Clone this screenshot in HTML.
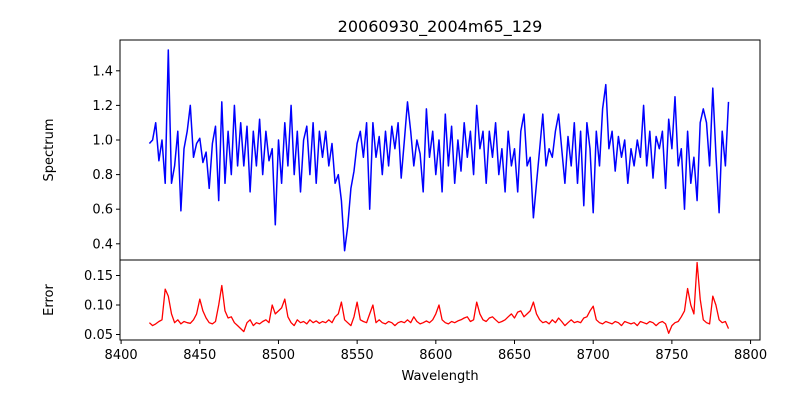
<!DOCTYPE html>
<html><head><meta charset="utf-8"><style>
html,body{margin:0;padding:0;background:#fff;}
svg{display:block;font-family:"DejaVu Sans","Liberation Sans",sans-serif;}
</style></head><body>
<svg id="chart" width="800" height="400" xmlns="http://www.w3.org/2000/svg">
<rect width="800" height="400" fill="#fff"/>
<text x="440" y="32" font-size="16" text-anchor="middle">20060930_2004m65_129</text>
<g id="topPanel"></g>
<g id="botPanel"></g>
<text x="440" y="380" font-size="13" text-anchor="middle">Wavelength</text>
<text transform="translate(53,150) rotate(-90)" font-size="13" text-anchor="middle">Spectrum</text>
<text transform="translate(53,300) rotate(-90)" font-size="13" text-anchor="middle">Error</text>
</svg>
<script>
const wlStart = 8418, wlStep = 2;
const spectrum = [0.98,1.0,1.1,0.88,1.0,0.75,1.52,0.75,0.85,1.05,0.59,0.95,1.05,1.2,0.9,0.98,1.01,0.87,0.93,0.72,0.98,1.08,0.65,1.22,0.75,1.05,0.8,1.2,0.85,1.1,0.85,1.08,0.7,1.05,0.85,1.12,0.8,1.05,0.88,0.95,0.51,1.0,0.75,1.1,0.85,1.2,0.8,1.05,0.7,1.0,1.08,0.8,1.1,0.75,1.05,0.9,1.05,0.85,0.98,0.75,0.8,0.65,0.36,0.5,0.72,0.82,0.98,1.05,0.9,1.1,0.6,1.1,0.9,1.02,0.8,1.05,0.85,1.08,0.95,1.1,0.78,1.0,1.22,1.05,0.85,1.0,0.92,0.7,1.18,0.9,1.05,0.8,1.0,0.7,1.15,0.85,1.08,0.75,1.0,0.82,1.1,0.9,1.05,0.8,1.2,0.95,1.05,0.75,1.05,0.9,1.1,0.8,0.95,0.7,1.05,0.85,0.95,0.7,1.05,1.15,0.85,0.9,0.55,0.75,0.95,1.15,0.85,0.95,0.9,1.05,1.15,0.95,0.75,1.02,0.85,1.1,0.75,1.05,0.62,1.1,0.95,0.58,1.05,0.85,1.18,1.32,0.95,1.05,0.82,1.02,0.9,1.0,0.75,0.95,0.85,1.0,0.9,1.2,0.85,1.05,0.78,1.02,0.95,1.05,0.72,1.12,0.95,1.25,0.85,0.95,0.6,1.05,0.75,0.9,0.65,1.1,1.18,1.1,0.85,1.3,0.92,0.58,1.05,0.85,1.22];
const errors = [0.07,0.065,0.068,0.072,0.075,0.127,0.115,0.085,0.07,0.075,0.068,0.072,0.07,0.069,0.075,0.085,0.11,0.09,0.078,0.07,0.068,0.072,0.1,0.133,0.09,0.078,0.08,0.07,0.065,0.06,0.055,0.07,0.075,0.065,0.07,0.068,0.072,0.075,0.07,0.1,0.085,0.09,0.095,0.11,0.08,0.07,0.065,0.075,0.07,0.072,0.068,0.075,0.07,0.073,0.069,0.072,0.07,0.075,0.07,0.08,0.085,0.105,0.075,0.07,0.065,0.08,0.105,0.075,0.072,0.07,0.085,0.1,0.07,0.075,0.07,0.068,0.072,0.07,0.065,0.07,0.072,0.07,0.075,0.07,0.08,0.072,0.068,0.07,0.073,0.07,0.075,0.085,0.1,0.075,0.07,0.068,0.072,0.07,0.073,0.075,0.078,0.08,0.072,0.075,0.105,0.085,0.075,0.072,0.078,0.08,0.075,0.07,0.072,0.075,0.08,0.085,0.078,0.088,0.09,0.08,0.085,0.09,0.105,0.085,0.075,0.07,0.072,0.068,0.075,0.07,0.078,0.072,0.065,0.07,0.075,0.07,0.072,0.07,0.078,0.08,0.09,0.098,0.075,0.07,0.068,0.072,0.07,0.068,0.072,0.07,0.065,0.072,0.07,0.068,0.07,0.065,0.072,0.07,0.068,0.072,0.07,0.065,0.07,0.072,0.068,0.052,0.065,0.07,0.072,0.08,0.09,0.128,0.1,0.085,0.172,0.11,0.075,0.07,0.068,0.115,0.1,0.075,0.07,0.072,0.06];
const xTicks = [8400,8450,8500,8550,8600,8650,8700,8750,8800];
const topTicks = [0.4,0.6,0.8,1.0,1.2,1.4];
const botTicks = [0.05,0.10,0.15];

const L=120,R=760, X0=8399.3, X1=8806;
const xS = w => L + (w-X0)/(X1-X0)*(R-L);
const yTop = v => 140 - (v-1.0)*173;
const yBot = v => 305 - (v-0.10)*590;
const NS="http://www.w3.org/2000/svg";
function mk(tag,attrs,parent){const e=document.createElementNS(NS,tag);for(const k in attrs)e.setAttribute(k,attrs[k]);parent.appendChild(e);return e;}

const topG=document.getElementById('topPanel'), botG=document.getElementById('botPanel');
let d=spectrum.map((v,i)=>(i?'L':'M')+xS(wlStart+i*wlStep).toFixed(1)+','+yTop(v).toFixed(1)).join('');
const sl=mk('path',{d:d,fill:'none',stroke:'#0000ff','stroke-width':1.5,'stroke-linejoin':'round'},topG);


d=errors.map((v,i)=>(i?'L':'M')+xS(wlStart+i*wlStep).toFixed(1)+','+yBot(v).toFixed(1)).join('');
const el=mk('path',{d:d,fill:'none',stroke:'#ff0000','stroke-width':1.3,'stroke-linejoin':'round'},botG);


const f1=mk('rect',{x:L,y:40,width:R-L,height:220,fill:'none',stroke:'#000','stroke-width':1},topG);


const f2=mk('rect',{x:L,y:260,width:R-L,height:80,fill:'none',stroke:'#000','stroke-width':1},botG);


topTicks.forEach(t=>{const y=yTop(t);
 mk('line',{x1:L-4,x2:L,y1:y,y2:y,stroke:'#000'},topG);
 const tx=mk('text',{x:L-7,y:y+4.5,'font-size':13,'text-anchor':'end'},topG);tx.textContent=t.toFixed(1);
 
 });
botTicks.forEach(t=>{const y=yBot(t);
 mk('line',{x1:L-4,x2:L,y1:y,y2:y,stroke:'#000'},botG);
 const tx=mk('text',{x:L-7,y:y+4.5,'font-size':13,'text-anchor':'end'},botG);tx.textContent=t.toFixed(2);
 
 });
xTicks.forEach(t=>{const x=xS(t);
 mk('line',{x1:x,x2:x,y1:340,y2:344,stroke:'#000'},botG);
 const tx=mk('text',{x:x,y:359,'font-size':13,'text-anchor':'middle'},botG);tx.textContent=t;
 
 });
</script>
</body></html>
